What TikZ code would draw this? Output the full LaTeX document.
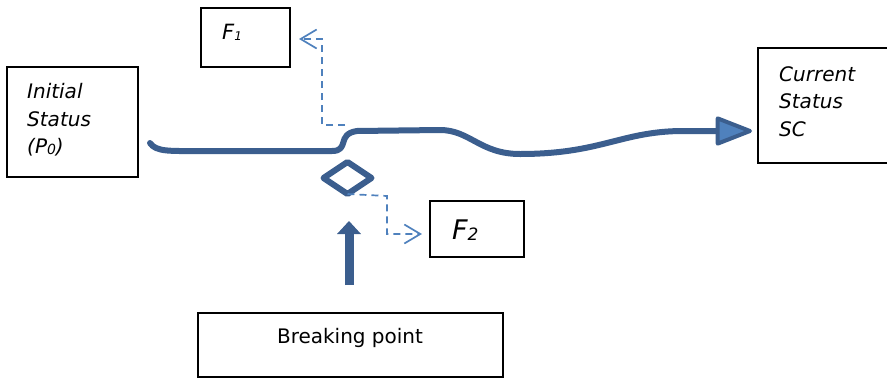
\documentclass[tikz,border=0pt]{standalone}
\usepackage{fontspec}
\setmainfont{DejaVu Sans}
\usetikzlibrary{arrows.meta,shapes.geometric}
\definecolor{darkblue}{HTML}{3B5E8E}
\definecolor{lightblue}{HTML}{4F81BD}
\newcommand\mysub[2]{\raisebox{-1pt}{\fontsize{#1}{#1}\selectfont #2}}
\tikzset{
  box/.style={draw=black, line width=1.3pt, rectangle, inner sep=0pt, outer sep=0pt, anchor=north west},
  txt/.style={font=\itshape\fontsize{20}{27.5}\selectfont, align=left, inner sep=0pt, anchor=west},
  mainflow/.style={draw=darkblue, line width=6pt, line cap=round, line join=round},
  dashlink/.style={draw=lightblue, line width=1.7pt, dash pattern=on 7pt off 5pt,
    -{Straight Barb[length=16pt,width=19pt,line width=1.7pt]}},
}
\begin{document}
\begin{tikzpicture}[x=1pt,y=-1pt]
\useasboundingbox (0,0) rectangle (887,378);
% boxes
\node[box, minimum width=131pt, minimum height=110pt] (init) at (7,67) {};
\node[box, minimum width=89pt, minimum height=59pt] (f1) at (201,8) {};
\node[box, minimum width=135pt, minimum height=115pt] (cur) at (758,48) {};
\node[box, minimum width=94pt, minimum height=56pt] (f2) at (430,201) {};
\node[box, minimum width=305pt, minimum height=64pt] (bp) at (198,313) {};
% texts
\node[txt] (initT) at (27,120) {Initial\\Status\\(P\mysub{14}{0})};
\node[txt] (curT) at (779,101.5) {Current\\Status\\SC};
\node[inner sep=0pt, anchor=base west, font=\itshape\fontsize{21}{24}\selectfont] (f1T) at (222,39) {F\mysub{12}{1}};
\node[inner sep=0pt, anchor=base west, font=\itshape\fontsize{27}{30}\selectfont] (f2T) at (452,239) {F\mysub{17}{2}};
\node[inner sep=0pt, anchor=base, font=\fontsize{20}{24}\selectfont] (bpT) at (350,343) {Breaking point};
% diamond
\node[diamond, draw=darkblue, line width=6pt, line join=round, minimum width=48pt, minimum height=32pt, inner sep=0pt, outer sep=0pt] (dia) at (347.5,178) {};
% coordinates
\coordinate (start) at (150,143);
\coordinate (hook) at (345,125);
\coordinate (f1c) at (322,125);
\coordinate (f1tip) at (299,39);
\coordinate (f2c) at (387,196);
\coordinate (f2tip) at (422,234);
\coordinate (upfrom) at (349,285);
\coordinate (upto) at (349,221);
\coordinate (endp) at (752,131);
% main flow
\draw[mainflow, -{Triangle[length=40pt,width=30pt,line width=4pt,fill=lightblue,line join=round]}]
  (start) .. controls (156,152) and (170,151) .. (200,151) -- (332,151)
  .. controls (350,151) and (336,134) .. (357,131) -- (440,130)
  .. controls (470,130) and (480,154) .. (520,154)
  .. controls (600,154) and (620,132) .. (680,131) -- (endp);
% dashed links
\draw[dashlink] (hook) -- (f1c) |- (f1tip);
\draw[dashlink] (dia.south) -- (f2c) |- (f2tip);
% up arrow
\draw[darkblue, line width=9pt, -{Triangle[length=13pt,width=24pt,line width=0pt]}] (upfrom) -- (upto);
\end{tikzpicture}
\end{document}
